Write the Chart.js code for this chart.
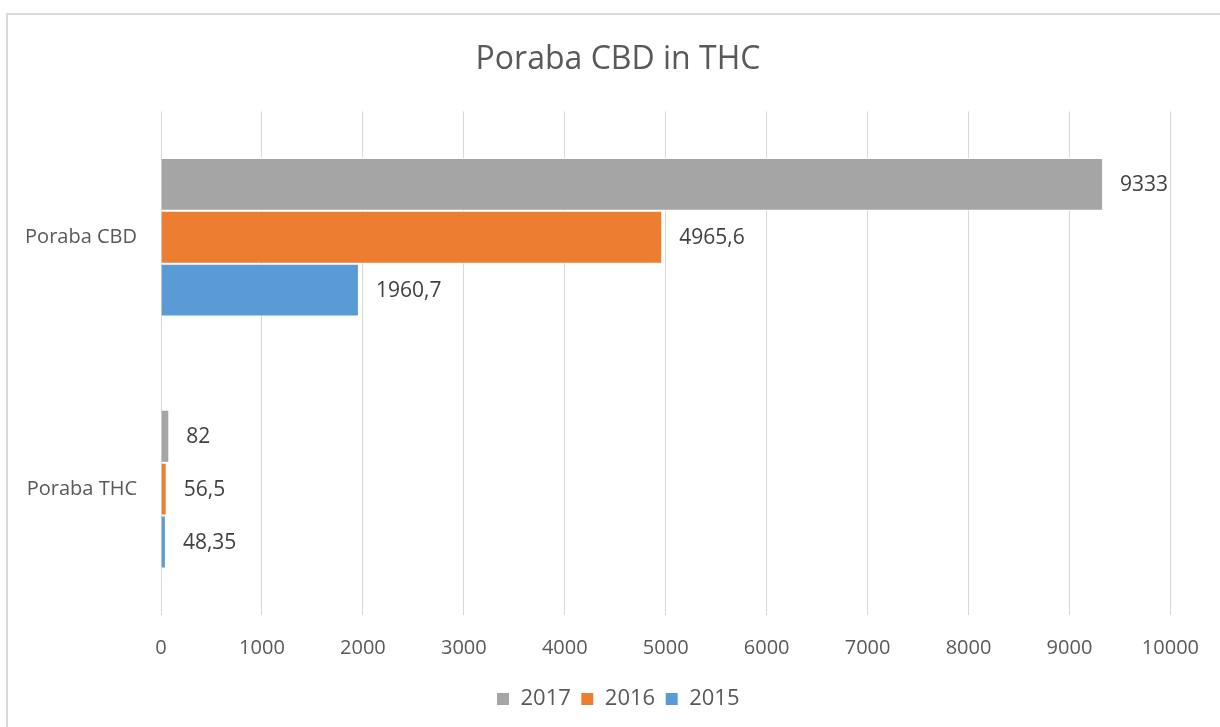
<!DOCTYPE html>
<html>
<head>
  <meta charset="UTF-8">
  <title>Poraba CBD in THC</title>
  <script src="https://cdn.jsdelivr.net/npm/chart.js"></script>
  <style>
    html, body { margin: 0; padding: 0; background: #fff; overflow: hidden; }
    #frame {
      position: absolute; left: 6px; top: 13px; width: 1230px; height: 730px;
      border: 2px solid #d9d9d9; box-sizing: border-box;
    }
    #wrap { position: absolute; left: 0; top: 0; width: 1220px; height: 727px; }
  </style>
</head>
<body>
  <div id="frame"></div>
  <div id="wrap"><canvas id="chart" width="1220" height="727"></canvas></div>

  <script>
    const categories = ['Poraba CBD', 'Poraba THC'];
    const years = ['2017', '2016', '2015'];
    const values2017 = [9333, 82];
    const values2016 = [4965.6, 56.5];
    const values2015 = [1960.7, 48.35];
    const colors = ['#a5a5a5', '#ed7d31', '#5b9bd5'];
    const xTicks = [0, 1000, 2000, 3000, 4000, 5000, 6000, 7000, 8000, 9000, 10000];

    const font = "'Open Sans', sans-serif";

    // the plot runs to the canvas edge; last gridline (10000) sits 49px in from it
    const axisMax = 10000 * 1059 / 1010;

    // value labels to the right of each bar, decimal comma
    const barLabels = {
      id: 'barLabels',
      afterDatasetsDraw(chart) {
        const ctx = chart.ctx;
        ctx.save();
        ctx.font = '21px ' + font;
        ctx.fillStyle = '#404040';
        ctx.textAlign = 'left';
        ctx.textBaseline = 'middle';
        chart.data.datasets.forEach((ds, i) => {
          chart.getDatasetMeta(i).data.forEach((bar, j) => {
            const text = String(ds.data[j]).replace('.', ',');
            ctx.fillText(text, bar.x + 17, bar.y + 1);
          });
        });
        ctx.restore();
      }
    };

    const series = [values2017, values2016, values2015];

    new Chart(document.getElementById('chart'), {
      type: 'bar',
      data: {
        labels: categories,
        datasets: years.map((y, i) => ({
          label: y,
          data: series[i],
          backgroundColor: colors[i],
          borderColor: '#ffffff',
          borderWidth: 1,
          categoryPercentage: 0.63,
          barPercentage: 1
        }))
      },
      options: {
        indexAxis: 'y',
        responsive: false,
        animation: false,
        layout: { padding: { left: 16, right: 0, top: 0, bottom: 7 } },
        scales: {
          x: {
            min: 0,
            max: axisMax,
            afterBuildTicks(scale) {
              scale.ticks = xTicks.map(v => ({ value: v }));
            },
            ticks: {
              color: '#595959',
              padding: 21,
              maxRotation: 0,
              autoSkip: false,
              font: { size: 20, family: font },
              callback: v => String(v)
            },
            grid: { color: '#d9d9d9', lineWidth: 1, drawTicks: false },
            border: { display: false },
            afterFit(scale) { scale.height = 63; }
          },
          y: {
            ticks: { color: '#595959', padding: 16, font: { size: 20, family: font } },
            grid: { display: false },
            border: { display: false },
            afterFit(scale) { scale.width = 145; }
          }
        },
        plugins: {
          title: {
            display: true,
            text: 'Poraba CBD in THC',
            color: '#595959',
            font: { size: 32, weight: 'normal', family: font },
            padding: { top: 41, bottom: 32 }
          },
          legend: {
            position: 'bottom',
            labels: {
              color: '#595959',
              boxWidth: 13,
              boxHeight: 13,
              padding: 10,
              font: { size: 22, family: font }
            }
          },
          tooltip: { enabled: false }
        }
      },
      plugins: [barLabels]
    });
  </script>
</body>
</html>
